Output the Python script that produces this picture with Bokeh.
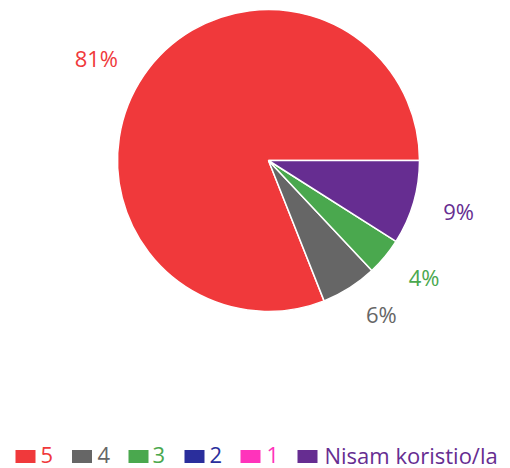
import math
from bokeh.plotting import figure
from bokeh.models import Range1d, ColumnDataSource
from bokeh.core.properties import value
from bokeh.embed import file_html
from bokeh.resources import INLINE

categories = ["5", "4", "3", "2", "1", "Nisam koristio/la"]
percents = [81, 6, 4, 0, 0, 9]
colors = ["#F0393B", "#666666", "#4AA84E", "#2A2E9C", "#FF33BB", "#662D91"]

W, H = 510, 468
p = figure(width=W, height=H, output_backend="svg", toolbar_location=None,
           x_range=Range1d(0, W), y_range=Range1d(0, H),
           min_border=0)
p.axis.visible = False
p.grid.visible = False
p.outline_line_color = None
p.background_fill_color = "white"

cx, cy, r = 268, H - 160, 151
total = sum(percents)
starts, ends, wcols = [], [], []
acc = 0.0
for v, c in zip(percents, colors):
    s = 2 * math.pi * acc / total
    acc += v
    e = 2 * math.pi * acc / total
    if v > 0:
        starts.append(s)
        ends.append(e)
        wcols.append(c)

src = ColumnDataSource(dict(start=starts, end=ends, color=wcols))
p.wedge(x=cx, y=cy, radius=r, start_angle="start", end_angle="end",
        fill_color="color", line_color="white", line_width=1.5, source=src)

# data labels
lx, ly, lt, lc, la = [], [], [], [], []
lr = r + 31
acc = 0.0
for v, c in zip(percents, colors):
    s = 2 * math.pi * acc / total
    acc += v
    e = 2 * math.pi * acc / total
    if v <= 0:
        continue
    m = (s + e) / 2
    lx.append(cx + lr * math.cos(m))
    ly.append(cy + lr * math.sin(m))
    lt.append(f"{v}%")
    lc.append(c)
    la.append("left" if math.cos(m) >= 0 else "right")
p.text(x=lx, y=ly, text=lt, text_color=lc, text_align=la,
       text_baseline="middle", text_font=value("Open Sans"), text_font_size="22px")

# legend
sq_y = H - 456
txt_y = H - 454
sq_x = [25, 81.5, 138, 194, 250, 307]
txt_x = [40, 97, 152, 209, 266, 324]
p.rect(x=sq_x, y=sq_y, width=20, height=13, fill_color=colors, line_color=None)
p.text(x=txt_x, y=txt_y, text=categories, text_color=colors, text_align="left",
       text_baseline="middle", text_font=value("Open Sans"), text_font_size="22px")

open("out.html", "w").write(file_html(p, INLINE))
